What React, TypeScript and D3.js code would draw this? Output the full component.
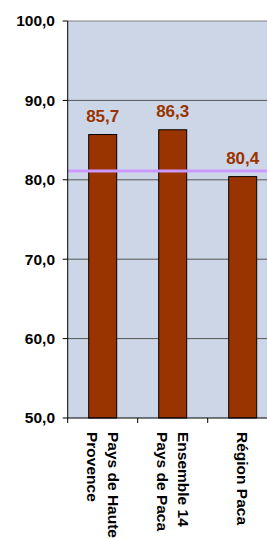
import * as d3 from 'd3'

const categories = ['Pays de Haute Provence', 'Ensemble 14 Pays de Paca', 'Région Paca']
const labelLines = [['Pays de Haute', 'Provence'], ['Ensemble 14', 'Pays de Paca'], ['Région Paca']]
const values = [85.7, 86.3, 80.4]
const refValue = 81.1
const yTicks = [50, 60, 70, 80, 90, 100]

const W = 267
const H = 539
const PL = 67.7
const PR = 277.7
const PT = 21
const PB = 418
const FONT = 'Arial, "Liberation Sans", sans-serif'
const BAR = '#993300'

const fmt = (v: number) => v.toFixed(1).replace('.', ',')

export default function App() {
  const x = d3.scaleBand<string>()
    .domain(categories)
    .range([PL, PR])
    .paddingInner(0.6)
    .paddingOuter(0.3)
  const y = d3.scaleLinear().domain([50, 100]).range([PB, PT])
  const step = x.step()
  const bw = x.bandwidth()

  return (
    <svg
      width={W}
      height={H}
      style={{ position: 'absolute', left: 0, top: 0, display: 'block', background: '#fff' }}
    >
      {/* Plot area */}
      <rect x={PL} y={PT} width={PR - PL} height={PB - PT} fill="#ccd6e6" />

      {/* Gridlines */}
      {yTicks.slice(1).map((t) => (
        <line
          key={t}
          x1={PL}
          x2={PR}
          y1={y(t)}
          y2={y(t)}
          stroke={t === 100 ? '#808080' : '#555'}
          strokeWidth={1}
        />
      ))}

      {/* Bars */}
      {values.map((v, i) => {
        const c = categories[i]
        const bx = x(c) ?? 0
        return (
          <g key={c}>
            <rect
              x={bx}
              y={y(v)}
              width={bw}
              height={PB - y(v)}
              fill={BAR}
              stroke="#000"
              strokeWidth={1}
            />
            <text
              x={bx + bw / 2}
              y={y(v) - 13}
              textAnchor="middle"
              fill={BAR}
              fontSize={17}
              fontWeight="bold"
              fontFamily={FONT}
            >
              {fmt(v)}
            </text>
          </g>
        )
      })}

      {/* Reference line */}
      <line x1={PL} x2={PR} y1={y(refValue)} y2={y(refValue)} stroke="#cc99ff" strokeWidth={3} />

      {/* Y axis */}
      <line x1={PL} x2={PL} y1={PT} y2={PB} stroke="#000" strokeWidth={1} />
      {yTicks.map((t) => (
        <g key={t}>
          <line x1={PL - 5} x2={PL} y1={y(t)} y2={y(t)} stroke="#000" />
          <text
            x={55}
            y={y(t)}
            dy="0.35em"
            textAnchor="end"
            fontSize={15.5}
            fontWeight="bold"
            fontFamily={FONT}
            fill="#000"
          >
            {fmt(t)}
          </text>
        </g>
      ))}

      {/* X axis */}
      <line x1={PL} x2={PR} y1={PB} y2={PB} stroke="#000" strokeWidth={1} />
      {d3.range(categories.length + 1).map((i) => {
        const tx = PL + i * step
        return <line key={i} x1={tx} x2={tx} y1={PB} y2={PB + 5} stroke="#000" />
      })}
      {categories.map((c, i) => {
        const cx = (x(c) ?? 0) + bw / 2
        const lines = labelLines[i]
        const gap = 21.5
        return lines.map((ln, j) => {
          const lx = cx + ((lines.length - 1) / 2 - j) * gap
          return (
            <text
              key={c + j}
              transform={`translate(${lx},432) rotate(90)`}
              dy="0.35em"
              fontSize={15.5}
              fontWeight="bold"
              fontFamily={FONT}
              fill="#000"
            >
              {ln}
            </text>
          )
        })
      })}
    </svg>
  )
}
